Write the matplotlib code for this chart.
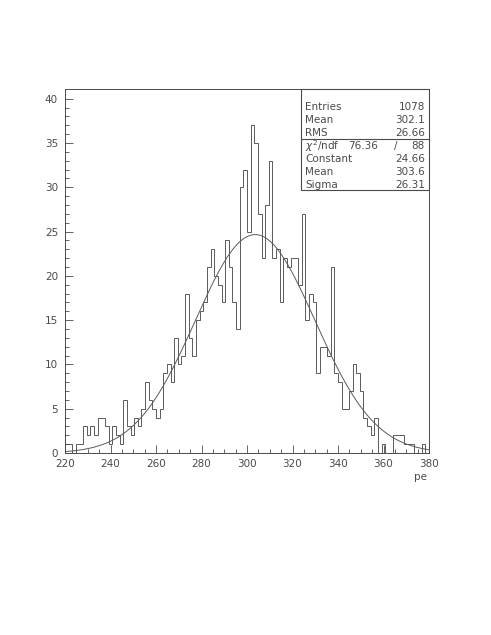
import numpy as np
import matplotlib
matplotlib.use('Agg')
import matplotlib.pyplot as plt
from matplotlib.patches import Rectangle
from matplotlib.lines import Line2D

# histogram: 100 bins from 220 to 380
x_min, x_max, n_bins = 220, 380, 100
counts = [1, 1, 0, 1, 1, 3, 2, 3, 2, 4,
          4, 3, 1, 3, 2, 1, 6, 3, 2, 4,
          3, 5, 8, 6, 5, 4, 5, 9, 10, 8,
          13, 10, 11, 18, 13, 11, 15, 16, 17, 21,
          23, 20, 19, 17, 24, 21, 17, 14, 30, 32,
          25, 37, 35, 27, 22, 28, 33, 22, 23, 17,
          22, 21, 22, 22, 19, 27, 15, 18, 17, 9,
          12, 12, 11, 21, 9, 8, 5, 5, 7, 10,
          9, 7, 4, 3, 2, 4, 0, 1, 0, 0,
          2, 2, 2, 1, 1, 1, 0, 0, 1, 0]

# gaus fit parameters (as shown in the stat box)
fit_const = 24.66
fit_mean = 303.6
fit_sigma = 26.31

stats_top = [('Entries', '1078'), ('Mean', '302.1'), ('RMS', '26.66')]
chi2_txt, ndf_txt = '76.36', '88'
stats_fit = [('Constant', '24.66'), ('Mean', '303.6'), ('Sigma', '26.31')]

W, H = 491, 635
def fx(px):
    return px / W
def fy(py):
    return 1 - py / H

col = '#4a4a4a'
lcol = '#5a5a5a'
plt.rcParams['font.family'] = 'DejaVu Sans'

fig = plt.figure(figsize=(W / 100, H / 100), dpi=100)
ax = fig.add_axes([fx(65), fy(453), (429 - 65) / W, (453 - 89) / H])

edges = np.linspace(x_min, x_max, n_bins + 1)
ax.stairs(counts, edges, color=lcol, lw=0.7, baseline=0)

xf = np.linspace(x_min, x_max, 400)
yf = fit_const * np.exp(-0.5 * ((xf - fit_mean) / fit_sigma) ** 2)
ax.plot(xf, yf, color=lcol, lw=0.7)

ax.set_xlim(x_min, x_max)
ax.set_ylim(0, 41.1)
ax.set_xticks(np.arange(220, 381, 20))
ax.set_xticks(np.arange(220, 381, 5), minor=True)
ax.set_yticks(np.arange(0, 41, 5))
ax.set_yticks(np.arange(0, 41, 1), minor=True)
ax.tick_params(which='both', direction='in', top=False, right=False,
               colors=col, labelsize=7.5, width=0.6)
ax.tick_params(which='major', length=6)
ax.tick_params(which='minor', length=3)
ax.tick_params(axis='x', pad=4)
ax.tick_params(axis='y', pad=5)
for s in ax.spines.values():
    s.set_color(col)
    s.set_linewidth(0.7)

fig.text(fx(427), fy(477), 'pe', ha='right', va='center', fontsize=7.5, color=col)

# stat box
bx0, bx1, by0, by1, bsep = 301, 429, 89, 190, 139
fig.patches.append(Rectangle((fx(bx0), fy(by1)), (bx1 - bx0) / W, (by1 - by0) / H,
                             transform=fig.transFigure, fill=True, facecolor='white',
                             edgecolor=col, lw=0.8, zorder=5))
fig.lines.append(Line2D([fx(bx0), fx(bx1)], [fy(bsep), fy(bsep)],
                        transform=fig.transFigure, color=col, lw=0.8, zorder=6))

tk = dict(fontsize=7.5, color=col, va='center', zorder=7)
rows_y = [107, 120, 133, 146, 159, 172, 185]
for (name, val), yy in zip(stats_top, rows_y[:3]):
    fig.text(fx(305), fy(yy), name, ha='left', **tk)
    fig.text(fx(425), fy(yy), val, ha='right', **tk)
fig.text(fx(305), fy(rows_y[3]), r'$\chi^2$/ndf', ha='left', **tk)
fig.text(fx(378), fy(rows_y[3]), chi2_txt, ha='right', **tk)
fig.text(fx(396), fy(rows_y[3]), '/', ha='center', **tk)
fig.text(fx(425), fy(rows_y[3]), ndf_txt, ha='right', **tk)
for (name, val), yy in zip(stats_fit, rows_y[4:]):
    fig.text(fx(305), fy(yy), name, ha='left', **tk)
    fig.text(fx(425), fy(yy), val, ha='right', **tk)

fig.savefig('out.png', dpi=100)
